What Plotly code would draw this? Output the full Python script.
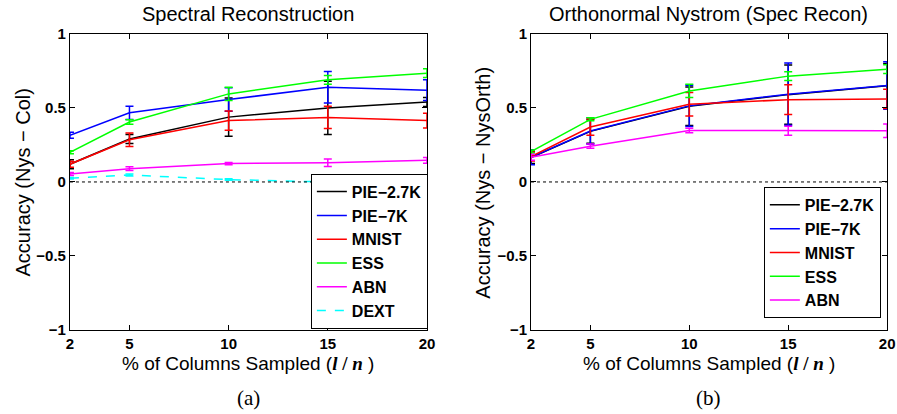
import plotly.graph_objects as go
from plotly.subplots import make_subplots

# percent of columns sampled
pct = [2, 5, 10, 15, 20]

# (a) Spectral Reconstruction: Nys - Col
a_names = ['PIE\u22122.7K', 'PIE\u22127K', 'MNIST', 'ESS', 'ABN', 'DEXT']
a_pie27 = [0.12, 0.29, 0.438, 0.50, 0.54]
a_pie27_err = [0.03, 0.03, 0.13, 0.18, 0.03]
a_pie7 = [0.315, 0.467, 0.557, 0.64, 0.62]
a_pie7_err = [0.02, 0.045, 0.08, 0.107, 0.07]
a_mnist = [0.12, 0.285, 0.415, 0.436, 0.415]
a_mnist_err = [0.02, 0.045, 0.065, 0.075, 0.05]
a_ess = [0.2, 0.405, 0.595, 0.69, 0.735]
a_ess_err = [0.01, 0.015, 0.045, 0.03, 0.03]
a_abn = [0.054, 0.09, 0.124, 0.13, 0.146]
a_abn_err = [0.01, 0.012, 0.008, 0.025, 0.02]
a_dext = [0.025, 0.047, 0.016, 0.0, -0.003]
a_dext_err = [0.005, 0.006, 0.005, 0.004, 0.004]

# (b) Orthonormal Nystrom: Nys - NysOrth
b_names = ['PIE\u22122.7K', 'PIE\u22127K', 'MNIST', 'ESS', 'ABN']
b_pie27 = [0.165, 0.342, 0.512, 0.59, 0.65]
b_pie27_err = [0.04, 0.08, 0.13, 0.2, 0.15]
b_pie7 = [0.167, 0.344, 0.514, 0.593, 0.652]
b_pie7_err = [0.05, 0.09, 0.14, 0.21, 0.16]
b_mnist = [0.172, 0.371, 0.525, 0.556, 0.561]
b_mnist_err = [0.03, 0.055, 0.08, 0.1, 0.065]
b_ess = [0.206, 0.423, 0.615, 0.715, 0.762]
b_ess_err = [0.01, 0.01, 0.045, 0.03, 0.03]
b_abn = [0.167, 0.242, 0.348, 0.346, 0.346]
b_abn_err = [0.02, 0.015, 0.015, 0.03, 0.045]

colors = ['#000000', '#0000ff', '#ff0000', '#00ff00', '#ff00ff', '#00ffff']

fig = make_subplots(rows=1, cols=2)

a_series = [(a_pie27, a_pie27_err), (a_pie7, a_pie7_err), (a_mnist, a_mnist_err),
            (a_ess, a_ess_err), (a_abn, a_abn_err), (a_dext, a_dext_err)]
for i, (vals, errs) in enumerate(a_series):
    fig.add_trace(go.Scatter(
        x=pct, y=vals, mode='lines', name=a_names[i],
        line=dict(color=colors[i], width=1.5, dash='dash' if i == 5 else 'solid'),
        error_y=dict(type='data', array=errs, color=colors[i], thickness=1.5, width=4),
        legend='legend'), row=1, col=1)

b_series = [(b_pie27, b_pie27_err), (b_pie7, b_pie7_err), (b_mnist, b_mnist_err),
            (b_ess, b_ess_err), (b_abn, b_abn_err)]
for i, (vals, errs) in enumerate(b_series):
    fig.add_trace(go.Scatter(
        x=pct, y=vals, mode='lines', name=b_names[i],
        line=dict(color=colors[i], width=1.5),
        error_y=dict(type='data', array=errs, color=colors[i], thickness=1.5, width=4),
        legend='legend2'), row=1, col=2)

# dotted zero line
for xr, yr in [('x domain', 'y'), ('x2 domain', 'y2')]:
    fig.add_shape(type='line', xref=xr, yref=yr, x0=0, x1=1, y0=0, y1=0,
                  line=dict(color='black', width=1, dash='dot'))

tickfont = dict(family='Liberation Sans, Arial', size=15, color='black', weight='bold')
axis_common = dict(showline=True, linecolor='black', linewidth=1, mirror='ticks',
                   ticks='inside', ticklen=5, tickcolor='black', showgrid=False,
                   zeroline=False, tickfont=tickfont, ticklabeloverflow='allow',
                   automargin=False)
xlabel = ('% of Columns Sampled (<span style="font-family:Liberation Serif"><b><i>l</i> / '
          '<i>n</i></b></span> )')
title_font = dict(family='Liberation Sans, Arial', size=20, color='black')
xtitle_font = dict(family='Liberation Sans, Arial', size=19, color='black')
cap_font = dict(family='Liberation Serif', size=21, color='black')

fig.update_xaxes(**axis_common, range=[2, 20], tickvals=pct)
fig.update_yaxes(**axis_common, range=[-1, 1], tickvals=[-1, -0.5, 0, 0.5, 1],
                 ticktext=['\u22121', '\u22120.5', '0', '0.5', '1'])
fig.update_xaxes(domain=[0.078, 0.476], row=1, col=1)
fig.update_xaxes(domain=[0.592, 0.989], row=1, col=2)
fig.update_yaxes(domain=[0.203, 0.918])

legend_common = dict(bgcolor='white', bordercolor='black', borderwidth=1,
                     font=dict(family='Liberation Sans, Arial', size=16, color='black',
                               weight='bold'),
                     itemwidth=30, tracegroupgap=0, xanchor='right', yanchor='bottom')


def label(text, x, y, font, angle=0):
    return dict(text=text, x=x, y=y, xref='paper', yref='paper', showarrow=False,
                font=font, xanchor='center', yanchor='middle', textangle=angle)


fig.update_layout(
    width=897, height=414,
    margin=dict(l=0, r=0, t=0, b=0),
    plot_bgcolor='white', paper_bgcolor='white',
    legend=dict(**legend_common, x=0.477, y=0.206),
    legend2=dict(**legend_common, x=0.982, y=0.232),
    annotations=[
        label('Spectral Reconstruction', 0.277, 0.966, title_font),
        label('Orthonormal Nystrom (Spec Recon)', 0.79, 0.966, title_font),
        label(xlabel, 0.277, 0.121, xtitle_font),
        label(xlabel, 0.79, 0.121, xtitle_font),
        label('Accuracy (Nys \u2212 Col)', 0.026, 0.56, title_font, -90),
        label('Accuracy (Nys \u2212 NysOrth)', 0.539, 0.56, title_font, -90),
        label('(a)', 0.277, 0.038, cap_font),
        label('(b)', 0.79, 0.038, cap_font),
    ],
)

# drop the default page margin so the figure fills the window exactly
fig.write_html('out.html', config={'displayModeBar': False},
               post_script="document.body.style.margin='0';")
